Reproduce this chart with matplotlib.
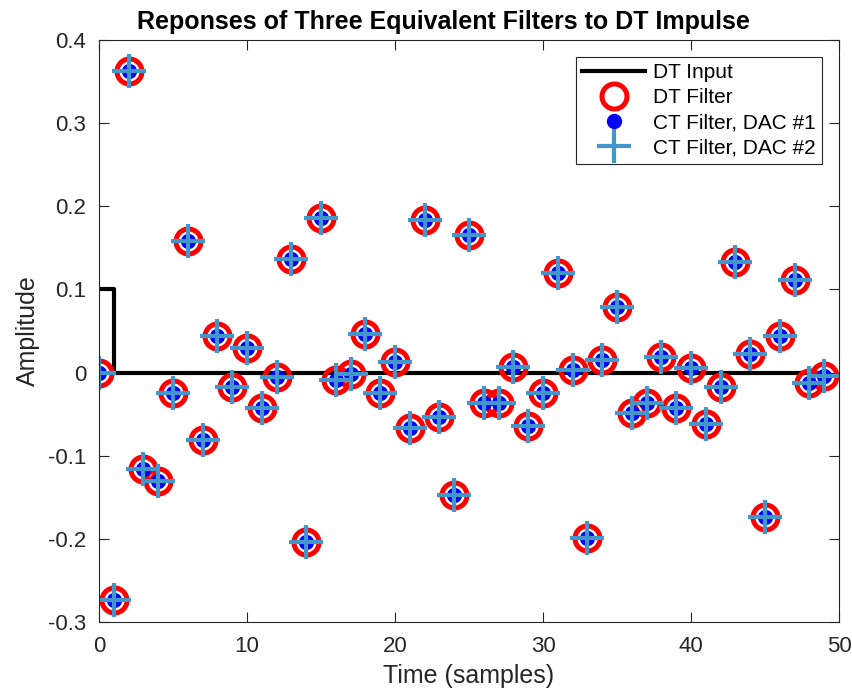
import numpy as np
import matplotlib.pyplot as plt

plt.rcParams['font.family'] = ['Liberation Sans', 'DejaVu Sans']

# sample index and DT input (unit impulse scaled to 0.1)
n = np.arange(50)
dt_input = [0.1] + [0.0] * 49

# filter response (all three filters agree)
response = [0.000, -0.273, 0.363, -0.116, -0.131, -0.025, 0.158, -0.081, 0.044, -0.017,
            0.029, -0.043, -0.005, 0.136, -0.204, 0.186, -0.009, -0.002, 0.046, -0.025,
            0.013, -0.067, 0.184, -0.053, -0.147, 0.165, -0.037, -0.037, 0.007, -0.064,
            -0.025, 0.120, 0.003, -0.199, 0.015, 0.079, -0.049, -0.037, 0.019, -0.043,
            0.006, -0.062, -0.017, 0.133, 0.022, -0.174, 0.044, 0.111, -0.013, -0.004]

fig = plt.figure(figsize=(8.53, 6.94), dpi=100)
ax = fig.add_axes([99 / 853, 72 / 694, 740 / 853, 582 / 694])

ax.plot(n, dt_input, color='black', lw=3, drawstyle='steps-post', label='DT Input')
ax.plot(n, response, 'o', ms=18, mfc='none', mec='red', mew=3.6, label='DT Filter')
ax.plot(n, response, 'o', ms=11, mfc='blue', mec='blue', mew=0, label='CT Filter, DAC #1')
ax.plot(n, response, '+', ms=25, mec='#4197CB', mew=3, label='CT Filter, DAC #2')

ax.set_xlim(0, 50)
ax.set_ylim(-0.3, 0.4)
ax.set_xticks([0, 10, 20, 30, 40, 50])
ax.set_yticks(np.arange(-0.3, 0.41, 0.1))
ax.set_yticklabels(['-0.3', '-0.2', '-0.1', '0', '0.1', '0.2', '0.3', '0.4'])
ax.tick_params(direction='in', length=7, top=True, right=True, labelsize=16,
               color='#262626', labelcolor='#262626')
ax.tick_params(axis='x', pad=10)
ax.tick_params(axis='y', pad=9)
for s in ax.spines.values():
    s.set_color('#262626')

ax.set_xlabel('Time (samples)', fontsize=18, color='#262626', labelpad=5)
ax.set_ylabel('Amplitude', fontsize=18, color='#262626', labelpad=6)
ax.set_title('Reponses of Three Equivalent Filters to DT Impulse', fontsize=18,
             fontweight='bold', pad=8, x=0.466)

leg = ax.legend(loc='upper right', fontsize=15, fancybox=False, framealpha=1,
                edgecolor='#262626', borderaxespad=0.8, handlelength=3.0,
                labelspacing=0.3, borderpad=0.3, handletextpad=0.4)
leg.get_frame().set_linewidth(0.8)

fig.savefig('out.png', dpi=100)
